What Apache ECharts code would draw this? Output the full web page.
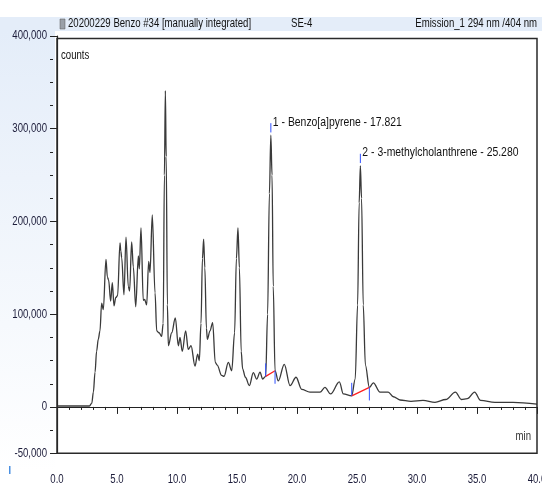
<!DOCTYPE html>
<html>
<head>
<meta charset="utf-8">
<script src="https://cdn.jsdelivr.net/npm/echarts@6/dist/echarts.min.js"></script>
<style>html,body{margin:0;padding:0;background:#fff}#c{width:542px;height:489px}</style>
</head>
<body>
<div id="c"></div>
<script>
// ---- data ----
const times = [0,2.7,2.9,3.03,3.17,3.3,3.44,3.58,3.72,3.86,4.08,4.2,4.3,4.47,4.61,4.75,4.9,5.05,5.25,5.32,5.39,5.58,5.75,5.94,6.05,6.22,6.36,6.56,6.78,6.86,7.0,7.19,7.3,7.47,7.64,7.75,7.94,8.17,8.31,8.5,8.72,8.85,8.95,9.03,9.1,9.2,9.28,9.56,9.86,10.11,10.25,10.44,10.72,10.94,11.17,11.5,11.72,11.86,12.0,12.12,12.22,12.32,12.45,12.53,12.75,12.97,13.19,13.35,13.72,13.92,14.28,14.56,14.8,14.95,15.08,15.2,15.35,15.47,15.7,16.03,16.36,16.64,16.92,17.14,17.39,17.55,17.7,17.82,17.92,18.02,18.17,18.44,18.94,19.42,19.92,20.39,21.08,21.92,22.33,22.8,23.53,23.86,24.56,24.85,25.05,25.18,25.28,25.38,25.52,25.7,26.03,26.36,26.92,27.6,28.03,28.58,29.5,30.5,31.5,32.4,33.2,33.7,34.2,34.8,35.3,36.5,38,40];
const counts = [1000,1000,4000,16000,37500,60000,73000,82000,112000,105000,159000,140000,137000,114000,134000,109000,118000,120000,177000,168000,161000,121000,183000,130000,125000,178000,151000,108000,163000,149000,193000,115000,116000,110000,157000,145000,207000,123000,82000,80000,76000,90000,250000,341000,270000,110000,66000,80000,96000,66000,75000,60000,82000,62000,66000,44000,57000,50000,90000,160000,181000,150000,85000,73000,82000,91000,48000,45000,34000,33000,48000,39000,80000,160000,193000,150000,60000,41000,32000,23000,37000,30000,37500,30000,33000,100000,230000,293000,250000,130000,39000,28000,46000,23000,32000,19000,16000,16000,21000,14000,27000,14000,12000,30000,110000,220000,260000,225000,110000,45000,21000,26000,16000,16000,11000,7500,6000,7000,5000,8000,16000,8000,9000,16000,7000,5000,5000,3000];
const peakLabels = ["1 - Benzo[a]pyrene - 17.821", "2 - 3-methylcholanthrene - 25.280"];
const peakTimes = [17.821, 25.280];
const peakTops = [293000, 260000];
const baseStartT = [17.39, 24.56];
const baseStartV = [33000, 12000];
const baseEndT = [18.17, 26.03];
const baseEndV = [39000, 21000];
const xTickValues = [0,5,10,15,20,25,30,35,40];
const yLabelValues = [-50000,0,100000,200000,300000,400000];
const headerLeft = "20200229 Benzo #34 [manually integrated]";
const headerMid = "SE-4";
const headerRight = "Emission_1 294 nm /404 nm";

// ---- build ----
const FONT = "'Liberation Sans', Arial, sans-serif";
const NARROW = 0.8;
const trace = times.map((t, i) => [t, counts[i]]);
const redData = [];
const blueData = [];
for (let i = 0; i < peakTimes.length; i++) {
  redData.push([baseStartT[i], baseStartV[i]], [baseEndT[i], baseEndV[i]], [null, null]);
  blueData.push([baseStartT[i], baseStartV[i]], [baseStartT[i], baseStartV[i] + 14000], [null, null]);
  blueData.push([baseEndT[i], baseEndV[i]], [baseEndT[i], baseEndV[i] - 14000], [null, null]);
  blueData.push([peakTimes[i], peakTops[i] + 3000], [peakTimes[i], peakTops[i] + 13000], [null, null]);
}

const chart = echarts.init(document.getElementById('c'), null, { renderer: 'canvas' });
chart.setOption({
  animation: false,
  backgroundColor: '#fff',
  textStyle: { fontFamily: FONT },
  grid: { left: 57, right: 5, top: 36, bottom: 35.7, containLabel: false, outerBoundsMode: 'none' },
  xAxis: {
    type: 'value', min: 0, max: 40, interval: 5, offset: 5,
    axisLine: { show: true, lineStyle: { color: '#222', width: 1.2 } },
    axisTick: { show: true, length: 7, lineStyle: { color: '#222' } },
    minorTick: { show: true, splitNumber: 5, length: 3, lineStyle: { color: '#222' } },
    splitLine: { show: false },
    axisLabel: { show: false }
  },
  yAxis: [
    {
      type: 'value', position: 'left', min: -50000, max: 400000, interval: 25000, offset: 4,
      axisLine: { show: true, lineStyle: { color: '#222', width: 1.2 } },
      axisTick: { show: true, length: 5, customValues: yLabelValues, lineStyle: { color: '#222' } },
      splitLine: { show: false },
      axisLabel: { show: false }
    },
    {
      type: 'value', position: 'left', min: -50000, max: 400000, interval: 25000, offset: 4,
      axisLine: { show: false },
      axisTick: { show: true, length: 3, lineStyle: { color: '#222' } },
      splitLine: { show: false },
      axisLabel: { show: false }
    }
  ],
  series: [
    { type: 'line', data: trace, showSymbol: false, smooth: 0.35, smoothMonotone: 'x',
      lineStyle: { color: '#3a3a3a', width: 1.3 }, z: 5 },
    { type: 'line', data: redData, showSymbol: false, connectNulls: false,
      lineStyle: { color: '#ff2020', width: 1.3 }, z: 6 },
    { type: 'line', data: blueData, showSymbol: false, connectNulls: false,
      lineStyle: { color: '#3050ff', width: 1 }, z: 7 }
  ]
});

// positions from the chart's own scales
const px = v => chart.convertToPixel({ xAxisIndex: 0 }, v);
const py = v => chart.convertToPixel({ yAxisIndex: 0 }, v);
const gl = px(0), gr = px(40), gt = py(400000), gb = py(-50000);

function txt(text, x, y, align, size, color, sx) {
  return { type: 'text', x: x, y: y, scaleX: sx || NARROW, z: 50,
    style: { text: text, font: size + 'px ' + FONT, fill: color, align: align, verticalAlign: 'middle' } };
}

const g = [
  { type: 'rect', z: -10, shape: { x: 0, y: 17, width: 542, height: 14 }, style: { fill: '#e4edf9' } },
  { type: 'rect', z: -10, shape: { x: 0, y: 31, width: gl - 2, height: 440 },
    style: { fill: new echarts.graphic.LinearGradient(0, 0, 0, 1, [{ offset: 0, color: '#e4edf9' }, { offset: 1, color: '#ffffff' }]) } },
  { type: 'rect', shape: { x: 60, y: 19, width: 5, height: 10 }, style: { fill: '#9aa0a8', stroke: '#555', lineWidth: 0.5 } },
  txt(headerLeft, 68, 24, 'left', 12, '#111'),
  txt(headerMid, 291, 24, 'left', 12, '#111'),
  txt(headerRight, 537, 24, 'right', 12, '#111'),
  txt('counts', 61, 56, 'left', 12, '#111'),
  txt('min', 531, 437, 'right', 12, '#333'),
  { type: 'rect', z: 100, shape: { x: gl, y: gt + 2.5, width: gr - gl, height: gb - gt - 2.5 }, style: { fill: 'none', stroke: '#2a2a2a', lineWidth: 1.5 } },
  { type: 'rect', shape: { x: 9, y: 466, width: 1.5, height: 8 }, style: { fill: '#4a90e2' } }
];
xTickValues.forEach(v => g.push(txt(v.toFixed(1), px(v), gb + 26, 'center', 12, '#1c1c3a')));
yLabelValues.forEach(v => g.push(txt(v.toLocaleString('en-US'), gl - 10, py(v), 'right', 12, '#1c1c3a')));
peakTimes.forEach((t, i) => g.push(txt(peakLabels[i], px(t) + 2, py(peakTops[i] + 14000), 'left', 13, '#111')));
chart.setOption({ graphic: g });
</script>
</body>
</html>
